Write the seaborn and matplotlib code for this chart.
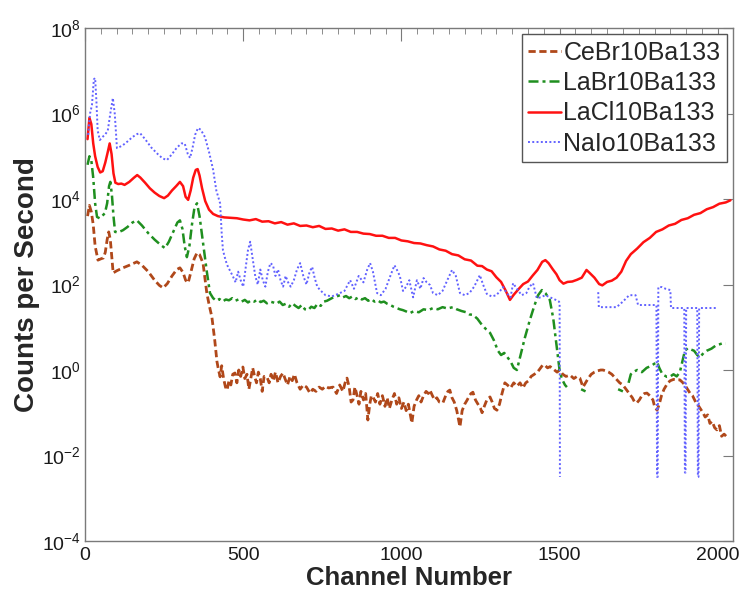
import numpy as np
import pandas as pd
import matplotlib
matplotlib.use("Agg")
import matplotlib.pyplot as plt
import seaborn as sns
from matplotlib.ticker import FixedLocator, MultipleLocator, LogFormatterSciNotation

sns.set_style("white")
plt.rcParams["font.family"] = ["Liberation Sans", "DejaVu Sans"]
plt.rcParams["mathtext.fontset"] = "custom"
plt.rcParams["mathtext.rm"] = "Liberation Sans"
plt.rcParams["mathtext.it"] = "Liberation Sans:italic"
plt.rcParams["mathtext.bf"] = "Liberation Sans:bold"

# values, log10(counts per second); None = gap in the trace
cebr_ch = [8, 14, 20, 26, 32, 41, 50, 58, 64, 70, 75, 80, 85, 89, 100, 120, 140, 164, 180, 200,
           220, 235, 247, 260, 275, 290, 300, 310, 318, 326, 335, 345, 354, 362, 373, 385, 393, 401,
           410, 417, 422, 427, 432, 438, 444, 449, 455, 461, 467, 474, 480, 486, 492, 499, 505, 512,
           518, 524, 530, 536, 542, 548, 554, 560, 566, 575, 582, 588, 595, 602, 610, 618, 626, 632,
           640, 648, 655, 662, 670, 680, 690, 700, 711, 720, 730, 740, 750, 760, 770, 784, 795, 805,
           815, 822, 828, 835, 841, 847, 853, 860, 866, 872, 880, 887, 894, 900, 905, 910, 918, 925,
           932, 940, 948, 955, 962, 970, 978, 985, 992, 1000, 1008, 1015, 1022, 1027, 1033, 1040,
           1048, 1055, 1062, 1070, 1078, 1085, 1090, 1098, 1105, 1112, 1120, 1131, 1140, 1147, 1153,
           1160, 1167, 1175, 1185, 1192, 1200, 1208, 1215, 1220, 1226, 1234, 1242, 1250, 1255, 1262,
           1270, 1280, 1287, 1294, 1302, 1310, 1318, 1327, 1335, 1345, 1355, 1365, 1375, 1384, 1393,
           1402, 1410, 1420, 1430, 1440, 1447, 1455, 1462, 1470, 1480, 1492, 1500, 1510, 1520, 1533,
           1545, 1555, 1564, 1574, 1582, 1590, 1600, 1610, 1620, 1630, 1637, 1645, 1655, 1665, 1675,
           1681, 1690, 1700, 1710, 1720, 1730, 1737, 1744, 1752, 1760, 1768, 1776, 1785, 1795, 1800,
           1808, 1815, 1822, 1830, 1842, 1850, 1860, 1870, 1880, 1890, 1900, 1912, 1920, 1930, 1940,
           1953, 1960, 1968, 1975, 1982, 1990, 1997, 2005, 2012, 2020, 2029, 2035]
cebr_log = [3.6, 3.85, 3.7, 3.4, 2.9, 2.57, 2.6, 2.62, 2.75, 3.05, 3.23, 3.05, 2.6, 2.27, 2.32, 2.39,
            2.45, 2.53, 2.45, 2.3, 2.1, 1.98, 1.92, 2.02, 2.2, 2.35, 2.39, 2.28, 2.1, 2.04, 2.3, 2.6,
            2.74, 2.7, 2.5, 1.8, 1.5, 1.24, 0.7, 0.2, 0.0, -0.16, 0.1, -0.2, -0.4, -0.47, -0.25,
            -0.35, -0.1, -0.07, -0.3, 0.0, -0.15, 0.07, -0.2, -0.1, -0.45, -0.2, 0.05, -0.15, -0.3,
            -0.05, -0.2, -0.5, -0.15, -0.16, -0.3, -0.1, -0.25, -0.05, -0.3, -0.15, -0.07, -0.2,
            -0.35, -0.15, -0.25, -0.1, -0.3, -0.45, -0.35, -0.4, -0.54, -0.45, -0.5, -0.4, -0.45,
            -0.38, -0.42, -0.4, -0.55, -0.35, -0.5, -0.3, -0.19, -0.4, -0.75, -0.7, -0.4, -0.6, -0.8,
            -0.5, -0.7, -0.55, -1.17, -0.8, -0.6, -0.63, -0.75, -0.55, -0.8, -0.6, -0.85, -0.65, -0.9,
            -0.7, -0.55, -0.8, -0.65, -0.9, -0.75, -0.95, -0.8, -1.0, -1.24, -0.85, -0.7, -0.6, -0.75,
            -0.6, -0.5, -0.55, -0.47, -0.6, -0.7, -0.65, -0.75, -0.77, -0.6, -0.5, -0.47, -0.65,
            -0.75, -0.95, -1.33, -0.95, -0.8, -0.7, -0.6, -0.55, -0.52, -0.7, -0.8, -0.9, -1.0,
            -0.85, -0.7, -0.63, -0.75, -0.9, -0.94, -0.8, -0.55, -0.3, -0.35, -0.42, -0.3, -0.38,
            -0.3, -0.42, -0.3, -0.25, -0.15, -0.1, -0.05, 0.05, 0.12, 0.1, 0.05, 0.08, 0.02, -0.05,
            0.0, -0.1, -0.15, -0.12, -0.2, -0.15, -0.19, -0.4, -0.3, -0.2, -0.1, -0.05, -0.02, 0.0,
            0.0, -0.02, -0.05, -0.1, -0.18, -0.23, -0.3, -0.35, -0.45, -0.55, -0.65, -0.75, -0.77,
            -0.7, -0.6, -0.55, -0.54, -0.6, -0.7, -0.85, -0.94, -0.8, -0.6, -0.45, -0.3, -0.25,
            -0.22, -0.23, -0.23, -0.3, -0.4, -0.54, -0.6, -0.75, -0.85, -1.0, -1.1, -1.05, -1.25,
            -1.2, -1.35, -1.4, -1.3, -1.55, -1.5, -1.57, -1.6]

labr_ch = [8, 14, 20, 26, 32, 38, 46, 54, 63, 70, 76, 80, 85, 90, 95, 105, 120, 135, 150, 164, 180,
           200, 220, 240, 253, 265, 280, 292, 300, 308, 315, 322, 330, 338, 346, 354, 362, 373, 385,
           395, 405, 415, 425, 435, 445, 455, 465, 475, 485, 495, 505, 515, 525, 535, 545, 555, 565,
           575, 585, 595, 605, 615, 625, 635, 645, 655, 665, 675, 685, 695, 705, 715, 725, 735, 745,
           755, 765, 775, 785, 795, 806, 815, 825, 835, 845, 855, 865, 875, 885, 895, 905, 915, 925,
           935, 945, 955, 965, 975, 985, 995, 1005, 1015, 1027, 1040, 1055, 1070, 1085, 1100, 1115,
           1130, 1145, 1163, 1175, 1190, 1205, 1215, 1226, 1240, 1255, 1268, 1280, 1292, 1305, 1315,
           1325, 1335, 1345, 1355, 1365, 1375, 1390, 1406, 1420, 1432, 1444, 1455, 1469, 1480, 1490,
           1501, 1510, 1517, 1523, None, 1568, 1582, None, 1685, 1700, None, 1718, 1725, 1732, 1745,
           1760, 1775, 1790, 1800, 1808, 1815, 1825, 1839, 1850, 1860, 1870, 1880, 1888, 1896, 1905,
           1915, 1925, 1935, 1944, 1955, 1965, 1980, 1995, 2005, 2017, 2025]
labr_log = [4.8, 5.0, 4.9, 4.5, 3.9, 3.58, 3.55, 3.6, 3.67, 3.9, 4.3, 4.4, 4.1, 3.6, 3.23, 3.22, 3.27,
            3.35, 3.45, 3.5, 3.38, 3.2, 3.05, 2.92, 2.85, 3.0, 3.25, 3.45, 3.5, 3.3, 2.9, 2.64, 2.9,
            3.4, 3.8, 3.9, 3.6, 2.97, 2.3, 1.8, 1.68, 1.62, 1.66, 1.6, 1.65, 1.63, 1.68, 1.62, 1.65,
            1.6, 1.64, 1.58, 1.63, 1.6, 1.65, 1.59, 1.62, 1.56, 1.6, 1.58, 1.55, 1.6, 1.52, 1.55,
            1.48, 1.56, 1.5, 1.45, 1.52, 1.42, 1.4, 1.48, 1.45, 1.55, 1.5, 1.6, 1.62, 1.66, 1.7, 1.72,
            1.75, 1.7, 1.73, 1.68, 1.72, 1.66, 1.7, 1.65, 1.68, 1.62, 1.66, 1.6, 1.63, 1.58, 1.6,
            1.55, 1.52, 1.48, 1.45, 1.42, 1.4, 1.37, 1.33, 1.38, 1.35, 1.42, 1.4, 1.45, 1.42, 1.47,
            1.44, 1.47, 1.42, 1.38, 1.35, 1.3, 1.29, 1.2, 1.05, 0.95, 0.87, 0.7, 0.45, 0.35, 0.4, 0.3,
            0.2, 0.05, 0.0, 0.3, 0.75, 1.17, 1.5, 1.75, 1.87, 1.8, 1.64, 1.2, 0.6, -0.07, -0.25,
            -0.35, -0.4, None, -0.45, -0.5, None, -0.45, -0.5, None, -0.3, -0.1, -0.05, 0.0, -0.05,
            0.05, 0.1, 0.15, 0.19, 0.05, -0.1, -0.16, -0.15, -0.1, -0.15, -0.05, 0.2, 0.45, 0.51,
            0.48, 0.45, 0.35, 0.3, 0.4, 0.45, 0.5, 0.58, 0.6, 0.63, 0.62]

lacl_ch = [8, 14, 20, 26, 32, 40, 48, 56, 64, 72, 78, 84, 90, 96, 105, 115, 125, 140, 155, 165, 175,
           190, 205, 220, 235, 250, 262, 275, 288, 300, 310, 318, 326, 334, 342, 350, 356, 362, 370,
           380, 392, 405, 420, 440, 460, 480, 500, 520, 540, 560, 580, 600, 620, 640, 660, 680, 700,
           720, 740, 760, 780, 800, 820, 840, 860, 880, 900, 920, 940, 960, 980, 1000, 1020, 1040,
           1060, 1080, 1100, 1120, 1140, 1160, 1180, 1200, 1220, 1240, 1255, 1270, 1285, 1300, 1315,
           1330, 1343, 1355, 1370, 1385, 1400, 1415, 1430, 1445, 1455, 1465, 1478, 1490, 1500, 1512,
           1525, 1540, 1555, 1570, 1585, 1595, 1610, 1625, 1635, 1650, 1665, 1680, 1695, 1710, 1725,
           1745, 1765, 1785, 1805, 1825, 1845, 1865, 1885, 1905, 1925, 1945, 1965, 1985, 2005, 2025,
           2040]
lacl_log = [5.4, 5.9, 5.75, 5.3, 5.0, 4.75, 4.62, 4.65, 4.85, 5.1, 5.3, 5.05, 4.6, 4.38, 4.35, 4.36,
            4.33, 4.4, 4.5, 4.56, 4.5, 4.38, 4.25, 4.15, 4.07, 4.02, 4.08, 4.2, 4.3, 4.4, 4.3, 4.05,
            3.98, 4.2, 4.5, 4.68, 4.7, 4.55, 4.25, 3.95, 3.75, 3.65, 3.6, 3.57, 3.56, 3.55, 3.52,
            3.5, 3.53, 3.47, 3.48, 3.43, 3.46, 3.4, 3.43, 3.37, 3.38, 3.34, 3.37, 3.3, 3.31, 3.26,
            3.29, 3.23, 3.23, 3.19, 3.18, 3.14, 3.14, 3.09, 3.09, 3.03, 3.01, 2.97, 2.96, 2.92, 2.89,
            2.82, 2.79, 2.71, 2.68, 2.59, 2.56, 2.44, 2.43, 2.35, 2.31, 2.17, 2.06, 1.85, 1.64, 1.76,
            1.89, 2.01, 2.07, 2.21, 2.34, 2.53, 2.57, 2.5, 2.36, 2.24, 2.1, 2.02, 2.06, 2.07, 2.11,
            2.16, 2.34, 2.27, 2.16, 2.01, 1.98, 2.06, 2.09, 2.16, 2.3, 2.55, 2.71, 2.84, 2.99, 3.09,
            3.23, 3.29, 3.38, 3.42, 3.51, 3.55, 3.63, 3.67, 3.76, 3.81, 3.89, 3.92, 3.97]

nai_ch = [10, 16, 22, 28, 32, 36, 40, 47, 55, 63, 72, 80, 88, 94, 101, 110, 120, 135, 150, 165, 174,
          190, 210, 230, 245, 259, 275, 290, 305, 315, 325, 332, 340, 348, 357, 366, 379, 392, 405,
          415, 427, 432, 436, 445, 452, 460, 468, 476, 484, 492, 500, 508, 515, 522, 530, 538, 546,
          554, 562, 570, 578, 586, 594, 602, 610, 618, 626, 634, 642, 650, 660, 670, 680, 690, 700,
          710, 718, 726, 734, 743, 760, 780, 800, 820, 838, 850, 865, 880, 892, 901, 910, 923, 935,
          950, 965, 978, 986, 995, 1005, 1015, 1025, 1037, 1049, 1060, 1070, 1080, 1090, 1100, 1115,
          1130, 1145, 1160, 1172, 1185, 1200, 1215, 1230, 1248, 1258, 1270, 1285, 1300, 1312, 1321,
          1333, 1345, 1353, 1365, 1380, 1395, 1405, 1416, 1428, 1440, 1455, 1470, 1485, 1498, 1500,
          1501, None, 1622, 1624, 1640, 1660, 1680, 1700, 1720, 1740, 1748, 1760, 1780, 1795, 1806,
          1808, 1810, 1812, 1823, 1835, 1850, 1852, 1870, 1885, 1894, 1896, 1898, 1900, 1920, 1935,
          1937, 1939, 1941, 1960, 1985, 2000]
nai_log = [5.5, 6.0, 6.2, 6.8, 6.83, 6.3, 5.6, 5.38, 5.45, 5.5, 5.6, 6.0, 6.36, 6.0, 5.19, 5.22,
           5.26, 5.35, 5.45, 5.52, 5.54, 5.4, 5.2, 5.05, 4.95, 4.91, 5.05, 5.2, 5.3, 5.3, 5.05, 4.96,
           5.2, 5.5, 5.66, 5.62, 5.45, 5.1, 4.68, 4.2, 3.9, 3.2, 2.8, 2.55, 2.41, 2.3, 2.18, 2.05,
           2.3, 2.1, 1.95, 2.4, 2.8, 3.0, 2.6, 2.2, 2.0, 2.35, 2.1, 1.95, 2.3, 2.5, 2.45, 2.2, 2.35,
           2.1, 1.95, 2.2, 2.05, 1.95, 2.1, 2.35, 2.5, 2.2, 2.0, 2.3, 2.41, 2.15, 1.95, 1.87, 1.75,
           1.72, 1.78, 1.85, 2.1, 1.9, 2.2, 2.05, 2.35, 2.5, 2.3, 1.8, 1.75, 1.9, 2.2, 2.45, 2.34,
           2.2, 1.85, 1.95, 2.1, 1.7, 2.1, 1.9, 2.15, 2.05, 1.99, 1.8, 1.75, 1.85, 2.1, 2.34, 2.2,
           1.8, 1.75, 1.8, 1.95, 2.22, 2.0, 1.78, 1.72, 1.75, 1.85, 1.94, 1.8, 1.7, 2.03, 1.9, 1.75,
           1.8, 1.95, 2.03, 1.68, 1.7, 1.75, 1.7, 1.65, 1.6, 1.57, -2.5, None, 1.82, 1.47, 1.47,
           1.47, 1.47, 1.6, 1.75, 1.75, 1.52, 1.52, 1.52, 1.52, 1.52, -2.5, -2.5, 1.94, 1.94, 1.9,
           1.87, 1.45, 1.45, 1.45, 1.45, -2.4, -2.4, 1.45, 1.45, 1.45, -2.5, -2.5, 1.45, 1.45, 1.45,
           1.45]

series_names = ["CeBr10Ba133", "LaBr10Ba133", "LaCl10Ba133", "NaIo10Ba133"]


def to_frame(ch, lg):
    df = pd.DataFrame({"channel": ch, "log_cps": lg}, dtype=float)
    df["seg"] = df["log_cps"].isna().cumsum()
    df = df.dropna().copy()
    df["cps"] = 10 ** df["log_cps"]
    return df


series = [
    (to_frame(cebr_ch, cebr_log), "#b0481a", (0, (2.6, 1.3)), 2.0),
    (to_frame(labr_ch, labr_log), "#1f8f1f", (0, (4.0, 1.6, 1.2, 1.6)), 1.8),
    (to_frame(lacl_ch, lacl_log), "#ff1111", "-", 1.8),
    (to_frame(nai_ch, nai_log), "#6262ff", (0, (1.0, 1.2)), 1.4),
]

fig = plt.figure(figsize=(7.43, 5.92), dpi=100)
ax = fig.add_axes([85 / 743, 1 - 541 / 592, 648 / 743, 513 / 592])
ax.set_yscale("log")

handles = []
for (df, color, ls, lw), name in zip(series, series_names):
    n0 = len(ax.lines)
    sns.lineplot(data=df, x="channel", y="cps", units="seg", estimator=None, sort=False,
                 color=color, linestyle=ls, linewidth=lw, ax=ax, legend=False)
    handles.append(ax.lines[n0])

ax.set_xlim(0, 2048)
ax.set_ylim(1e-4, 1e8)
ax.xaxis.set_major_locator(FixedLocator([0, 500, 1000, 1500, 2000]))
ax.xaxis.set_minor_locator(MultipleLocator(50))
ax.yaxis.set_major_locator(FixedLocator([1e-4, 1e-2, 1e0, 1e2, 1e4, 1e6, 1e8]))
ax.yaxis.set_minor_locator(FixedLocator([]))
ax.yaxis.set_major_formatter(LogFormatterSciNotation())

for s in ax.spines.values():
    s.set_color("#7a7a7a")
    s.set_linewidth(1.0)
ax.tick_params(axis="both", which="both", direction="in", top=True, right=True,
               color="#7a7a7a", labelcolor="#1a1a1a", labelsize=14)
ax.tick_params(axis="x", which="major", length=9, pad=4)
ax.tick_params(axis="x", which="minor", length=4)
ax.tick_params(axis="y", which="major", length=7, pad=3)

ax.set_xlabel("Channel Number", fontsize=18.5, fontweight="bold", labelpad=2)
ax.set_ylabel("Counts per Second", fontsize=20, fontweight="bold", labelpad=1)

leg = ax.legend(handles, series_names, loc="upper right", fontsize=18, frameon=True,
                fancybox=False, framealpha=1, edgecolor="#555555", handlelength=1.3,
                handletextpad=0.1, labelspacing=0.26, borderpad=0.25, borderaxespad=0.25)
leg.get_frame().set_linewidth(1.0)

fig.savefig("out.png", dpi=100)
